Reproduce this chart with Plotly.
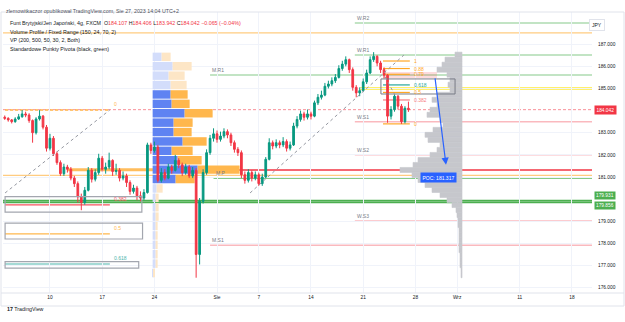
import plotly.graph_objects as go
import numpy as np

# ---------------- data ----------------
# 4h candles, GBP/JPY; x = bar number (15 bars per week slot, 0 = "10" Jul)
bars = list(range(-13, 104))
first_open = 183.70
close = [183.65,183.58,183.50,183.62,183.72,183.85,183.80,183.55,183.00,183.62,183.75,183.25,182.30,
         182.75,182.05,181.65,181.15,181.45,181.35,180.95,180.70,180.10,179.85,
         180.40,181.30,180.90,181.20,181.85,181.35,181.45,181.75,181.25,181.30,
         180.95,181.05,180.75,180.35,180.50,180.15,180.05,180.30,182.45,182.20,
         182.35,180.85,181.20,180.95,181.45,181.30,181.75,181.55,181.20,181.45,
         181.05,181.30,177.50,179.90,181.20,182.10,182.75,182.95,182.70,182.85,
         183.05,182.90,182.55,182.25,182.10,181.10,180.85,181.20,180.95,181.10,
         180.70,181.00,181.80,182.55,182.40,182.55,182.45,182.60,182.30,182.45,
         183.30,183.60,183.85,183.70,183.85,183.75,184.35,184.60,184.70,185.10,
         185.20,185.35,185.50,185.90,186.10,186.30,185.85,185.05,184.80,184.90,
         185.30,185.70,186.30,186.45,186.15,185.85,185.60,183.75,184.05,184.65,
         184.20,183.50,184.107,184.042]
high = [183.78,183.70,183.62,183.70,183.85,184.02,183.95,183.88,183.60,183.70,184.02,183.80,183.35,
        182.95,182.85,182.15,181.75,181.60,181.55,181.45,181.05,180.80,180.25,
        180.55,181.45,181.40,181.35,182.05,181.95,181.65,182.10,181.80,181.60,
        181.40,181.25,181.15,180.85,180.65,180.60,180.35,180.45,182.55,182.55,
        182.60,182.45,181.40,181.35,181.60,181.55,182.00,181.85,181.65,181.60,
        181.55,181.45,181.40,180.05,181.35,182.25,182.90,183.20,183.10,183.05,
        183.20,183.15,183.00,182.65,182.35,182.20,181.25,181.35,181.30,181.25,
        181.20,181.15,181.90,182.75,182.65,182.70,182.65,182.80,182.70,182.60,
        183.45,183.75,184.00,183.95,184.05,183.95,184.45,184.75,184.90,185.25,
        185.35,185.50,185.65,186.05,186.25,186.45,186.35,185.95,185.15,185.05,
        185.45,185.85,186.45,186.64,186.50,186.25,185.95,185.65,184.20,184.75,
        184.70,184.30,184.20,184.406]
low = [183.58,183.50,183.42,183.45,183.58,183.68,183.70,183.45,182.55,182.92,183.55,183.15,182.15,
       182.20,181.95,181.55,181.05,181.05,181.20,180.85,180.55,179.85,179.50,
       179.75,180.35,180.75,180.80,181.10,181.25,181.15,181.35,181.05,181.10,
       180.80,180.85,180.55,180.20,180.25,179.95,179.90,179.95,180.25,182.05,
       182.10,180.75,180.75,180.85,180.90,181.15,181.25,181.40,181.05,181.10,
       180.95,180.95,176.45,177.05,179.80,181.10,182.00,182.60,182.55,182.60,
       182.75,182.75,182.40,182.10,181.95,180.95,180.70,180.75,180.80,180.85,
       180.60,180.60,180.95,181.75,182.25,182.30,182.30,182.35,182.15,182.20,
       182.40,183.20,183.50,183.55,183.60,183.60,183.70,184.25,184.50,184.65,
       185.00,185.10,185.25,185.45,185.80,186.00,185.70,184.90,184.60,184.65,
       184.85,185.20,185.65,186.20,186.00,185.70,185.45,183.45,183.60,183.95,
       184.05,183.40,183.42,183.942]
opens = [first_open] + close[:-1]

tick_bars = [0, 15, 30, 48, 60, 75, 90, 105, 117, 135, 150]
tick_text = ['10', '17', '24', 'Sie', '7', '14', '21', '28', 'Wrz', '11', '18']
price_ticks = [176, 177, 178, 179, 181, 182, 183, 185, 186, 187]

# Fixed-range volume profile (24 rows, top -> bottom), up / down volume
vp_low, vp_high = 176.45, 186.64
vp_up = [9, 20, 16, 18, 18, 19, 32, 21, 21, 30, 19, 25, 45, 23, 4, 3, 3, 3, 3, 3, 3, 3, 3, 1]
vp_down = [9, 19, 16, 16, 17, 18, 28, 19, 18, 24, 21, 24, 42, 19, 6, 3, 3, 3, 2, 2, 2, 2, 2, 1]
vp_value_area = [False]*4 + [True]*10 + [False]*10
vp_start_bar = 29.5

# Session volume profile (gray, 45 rows, top -> bottom)
vp2_vol = [7, 17, 20, 25, 15, 12, 14, 12, 25, 30, 25, 32, 35, 22, 19, 29, 37, 34, 22, 25,
           32, 44, 49, 62, 50, 44, 37, 30, 22, 15, 10, 6, 5, 4, 4, 3, 3, 3, 3, 3, 2, 2, 2, 1, 1]
vp2_anchor_bar = 118.4
poc_price = 181.317

# Pivot points
piv_names = ['W.R2', 'W.R1', 'M.R1', 'M.P', 'W.S1', 'W.S2', 'W.S3', 'M.S1']
piv_prices = [187.96, 186.51, 185.61, 180.96, 183.50, 182.00, 179.01, 177.92]
piv_start = [87.6, 87.6, 46.0, 47.0, 87.6, 87.6, 87.6, 46.0]
piv_kind = ['R', 'R', 'R', 'P', 'S', 'S', 'S', 'S']

# Left fibonacci retracement
fibL_labels = ['0', '0.382', '0.5', '0.618']
fibL_prices = [184.03, 179.74, 178.43, 177.07]
fibL_colors = ['#ffb74d', '#f7525f', '#ffb74d', '#4db6ac']
fibL_span = (-12.9, 17.2)
fibL_boxes = [(-12.9, 26.4, 179.41, 180.11), (-12.9, 26.6, 178.20, 178.92), (-12.9, 25.5, 176.88, 177.18)]

# Right fibonacci retracement
fibR_labels = ['1', '0.88', '0.79', '0.618', '0.5', '0.382', '0']
fibR_prices = [186.24, 185.90, 185.64, 185.16, 184.82, 184.48, 183.40]
fibR_colors = ['#ffa726', '#ffa726', '#ffa726', '#26a69a', '#ffa726', '#f77c80', '#ffa726']
fibR_span = (95.7, 103.4)

last_price = 184.042
green_levels = [179.931, 179.856]

# ---------------- layout helpers ----------------
W, H = 625, 322
ML, MR, MT, MB = 3, 33, 12, 29
PW, PH = W - ML - MR, H - MT - MB
X_RANGE = [-13.5, 155.75]
Y_RANGE = [175.76, 188.454]
PX_PER_BAR = PW / (X_RANGE[1] - X_RANGE[0])


def pxx(px):
    return (px - ML) / PW


def pxy(py):
    return (H - MB - py) / PH


XEND = X_RANGE[1]
FONT = 'Liberation Sans, Arial, sans-serif'

fig = go.Figure()

# ---- fixed range volume profile ----
n1 = len(vp_up)
rh1 = (vp_high - vp_low) / n1
cent1 = [vp_high - (k + 0.5) * rh1 for k in range(n1)]
up_len = [v / PX_PER_BAR for v in vp_up]
dn_len = [v / PX_PER_BAR for v in vp_down]
blue_c = ['#5f83f2' if f else '#d3ddfb' for f in vp_value_area]
orng_c = ['#ffb74d' if f else '#fde6c6' for f in vp_value_area]
fig.add_trace(go.Bar(orientation='h', y=cent1, x=up_len, base=[vp_start_bar]*n1,
                     width=rh1*0.9, marker=dict(color=blue_c, line=dict(width=0)), hoverinfo='skip'))
fig.add_trace(go.Bar(orientation='h', y=cent1, x=dn_len, base=[vp_start_bar + u for u in up_len],
                     width=rh1*0.9, marker=dict(color=orng_c, line=dict(width=0)), hoverinfo='skip'))

# ---- gray session volume profile ----
n2 = len(vp2_vol)
rh2 = (vp_high - vp_low) / n2
cent2 = [vp_high - (k + 0.5) * rh2 for k in range(n2)]
fig.add_trace(go.Bar(orientation='h', y=cent2, x=[-v / PX_PER_BAR for v in vp2_vol],
                     base=[vp2_anchor_bar]*n2, width=rh2,
                     marker=dict(color='#c6c7cc', line=dict(width=0.6, color='#c6c7cc')),
                     hoverinfo='skip'))

# ---- candles ----
fig.add_trace(go.Candlestick(x=bars, open=opens, high=high, low=low, close=close,
                             increasing=dict(line=dict(color='#089981', width=1), fillcolor='#089981'),
                             decreasing=dict(line=dict(color='#f23645', width=1), fillcolor='#f23645'),
                             whiskerwidth=0, hoverinfo='skip'))

shapes = []
ann = []


def hline(y, x0, x1, color, width=1, dash='solid', layer='below'):
    shapes.append(dict(type='line', xref='x', yref='y', x0=x0, x1=x1, y0=y, y1=y,
                       line=dict(color=color, width=width, dash=dash), layer=layer))


# full-width horizontal levels
hline(187.51, X_RANGE[0], XEND, '#ffcc80', 1.2)
hline(181.07, X_RANGE[0], XEND, '#ffcc80', 1.2)
hline(185.00, 89.1, XEND, 'rgba(255,235,59,0.75)', 3)
for g in green_levels:
    hline(g, X_RANGE[0], XEND, '#4caf50', 1.8)
hline(poc_price, 43.1, XEND, '#f23645', 1.5)
hline(181.33, 4.9, 29.6, 'rgba(255,167,38,0.75)', 3)
hline(last_price, X_RANGE[0], XEND, 'rgba(242,54,69,0.55)', 1, '3px,2px')

# pivots
for name, p, s, k in zip(piv_names, piv_prices, piv_start, piv_kind):
    col = {'R': 'rgba(76,175,80,0.45)', 'P': '#5cb860', 'S': 'rgba(242,54,69,0.35)'}[k]
    hline(p, s, XEND, col, 1.5)
    ann.append(dict(x=s, y=p, xref='x', yref='y', text=name, showarrow=False, xanchor='left',
                    yanchor='bottom', yshift=0, font=dict(size=5, color='#787b86', family=FONT)))

# left fib
for lab, p, c in zip(fibL_labels, fibL_prices, fibL_colors):
    hline(p, fibL_span[0], fibL_span[1], 'rgba(255,183,77,0.8)' if lab == '0' else c,
          2 if lab == '0' else 1.2, '3px,2px' if lab == '0' else 'solid')
    ann.append(dict(x=fibL_span[1] + 0.6, y=p, xref='x', yref='y', text=lab, showarrow=False,
                    xanchor='left', yanchor='bottom', yshift=1, font=dict(size=5, color=c, family=FONT)))
for x0, x1, y0, y1 in fibL_boxes:
    shapes.append(dict(type='rect', xref='x', yref='y', x0=x0, x1=x1, y0=y0, y1=y1,
                       line=dict(color='#a3a6af', width=1.2), layer='above'))
shapes.append(dict(type='line', xref='x', yref='y', x0=-12.9, y0=180.28, x1=17.2, y1=184.03,
                   line=dict(color='#9598a1', width=1, dash='dot')))

# right fib
shapes.append(dict(type='rect', xref='x', yref='y', x0=95.7, x1=111.2, y0=185.47, y1=185.74,
                   fillcolor='rgba(242,54,69,0.18)', line=dict(width=0), layer='below'))
for lab, p, c in zip(fibR_labels, fibR_prices, fibR_colors):
    hline(p, fibR_span[0], fibR_span[1], c, 1.2)
    ann.append(dict(x=fibR_span[1] + 0.5, y=p, xref='x', yref='y', text=lab, showarrow=False,
                    xanchor='left', yanchor='middle', font=dict(size=5, color=c, family=FONT)))
shapes.append(dict(type='rect', xref='x', yref='y', x0=95.1, x1=116.4, y0=184.75, y1=185.43,
                   line=dict(color='#787b86', width=1), layer='above'))
shapes.append(dict(type='line', xref='x', yref='y', x0=57.5, y0=180.28, x1=101.7, y1=186.51,
                   line=dict(color='#9598a1', width=1, dash='dot')))
shapes.append(dict(type='line', xref='x', yref='y', x0=96.3, y0=185.52, x1=99.1, y1=184.71,
                   line=dict(color='#9598a1', width=1, dash='dot')))

# arrow
ann.append(dict(x=113.8, y=181.55, ax=110.6, ay=185.52, xref='x', yref='y', axref='x', ayref='y',
                text='', showarrow=True, arrowhead=2, arrowsize=1.2, arrowwidth=1.2, arrowcolor='#2962ff'))
# POC label
ann.append(dict(x=111.5, y=180.98, xref='x', yref='y', text='POC: 181.317', showarrow=False,
                bgcolor='#2962ff', font=dict(size=5, color='white', family=FONT), borderpad=1.5))

# price-scale labels
ann.append(dict(x=1, y=last_price, xref='paper', yref='y', text='184.042', showarrow=False,
                xanchor='left', xshift=2, bgcolor='#f23645', borderpad=1.5,
                font=dict(size=4.8, color='white', family=FONT)))
for i, g in enumerate(green_levels):
    ann.append(dict(x=1, y=green_levels[0], xref='paper', yref='y', text=f'{g:.3f}', showarrow=False,
                    xanchor='left', yanchor='top' if i else 'bottom', xshift=2, yshift=-0.5 if i else 0.5,
                    bgcolor='#4caf50', borderpad=1,
                    font=dict(size=4.8, color='white', family=FONT)))
ann.append(dict(x=pxx(605), y=pxy(19.5), xref='paper', yref='paper', text='JPY', showarrow=False,
                bgcolor='white', bordercolor='#e0e3eb', borderwidth=1, borderpad=2,
                font=dict(size=5, color='#131722', family=FONT)))

# header / legend
ann.append(dict(x=pxx(4), y=pxy(5.5), xref='paper', yref='paper', xanchor='left', showarrow=False,
                text='zlemowitkaczor opublikował TradingView.com, Sie 27, 2023 14:04 UTC+2',
                font=dict(size=5.3, color='#50535e', family=FONT)))
red = '#f23645'
leg1 = ('Funt Brytyjski/Jen Japoński, 4g, FXCM  '
        f'O<span style="color:{red}">184.107</span> H<span style="color:{red}">184.406</span> '
        f'L<span style="color:{red}">183.942</span> C<span style="color:{red}">184.042</span> '
        f'<span style="color:{red}">−0.065 (−0.04%)</span>')
legend_lines = [leg1, 'Volume Profile / Fixed Range (150, 24, 70, 2)',
                'VP (200, 500, 50, 30, 2, Both)', 'Standardowe Punkty Pivota (black, green)']
for i, t in enumerate(legend_lines):
    ann.append(dict(x=pxx(8), y=pxy(18 + 8.7*i), xref='paper', yref='paper', xanchor='left',
                    showarrow=False, text=t, font=dict(size=5.3, color='#131722', family=FONT)))
ann.append(dict(x=pxx(5), y=pxy(313.5), xref='paper', yref='paper', xanchor='left', showarrow=False,
                text='<b>17</b> TradingView', font=dict(size=5.3, color='#131722', family=FONT)))

# pane border
shapes.append(dict(type='rect', xref='paper', yref='paper', x0=pxx(1), x1=pxx(624), y0=pxy(306),
                   y1=pxy(12), line=dict(color='#e0e3eb', width=1), layer='above'))
shapes.append(dict(type='line', xref='paper', yref='paper', x0=pxx(1), x1=pxx(624), y0=0, y1=0,
                   line=dict(color='#e0e3eb', width=1)))

fig.update_layout(
    width=W, height=H, margin=dict(l=ML, r=MR, t=MT, b=MB),
    paper_bgcolor='white', plot_bgcolor='white', showlegend=False, barmode='overlay',
    shapes=shapes, annotations=ann,
    xaxis=dict(range=X_RANGE, tickvals=tick_bars, ticktext=tick_text, showgrid=True,
               gridcolor='#f0f3fa', zeroline=False, showline=False, ticks='',
               rangeslider=dict(visible=False), fixedrange=True,
               tickfont=dict(size=4.8, color='#131722', family=FONT)),
    yaxis=dict(range=Y_RANGE, side='right', tickvals=price_ticks, tickformat='.3f', showgrid=True,
               gridcolor='#f0f3fa', zeroline=False, showline=False, ticks='', fixedrange=True,
               ticklabelstandoff=5, tickfont=dict(size=4.8, color='#131722', family=FONT)),
)

fig.write_html('out.html')
